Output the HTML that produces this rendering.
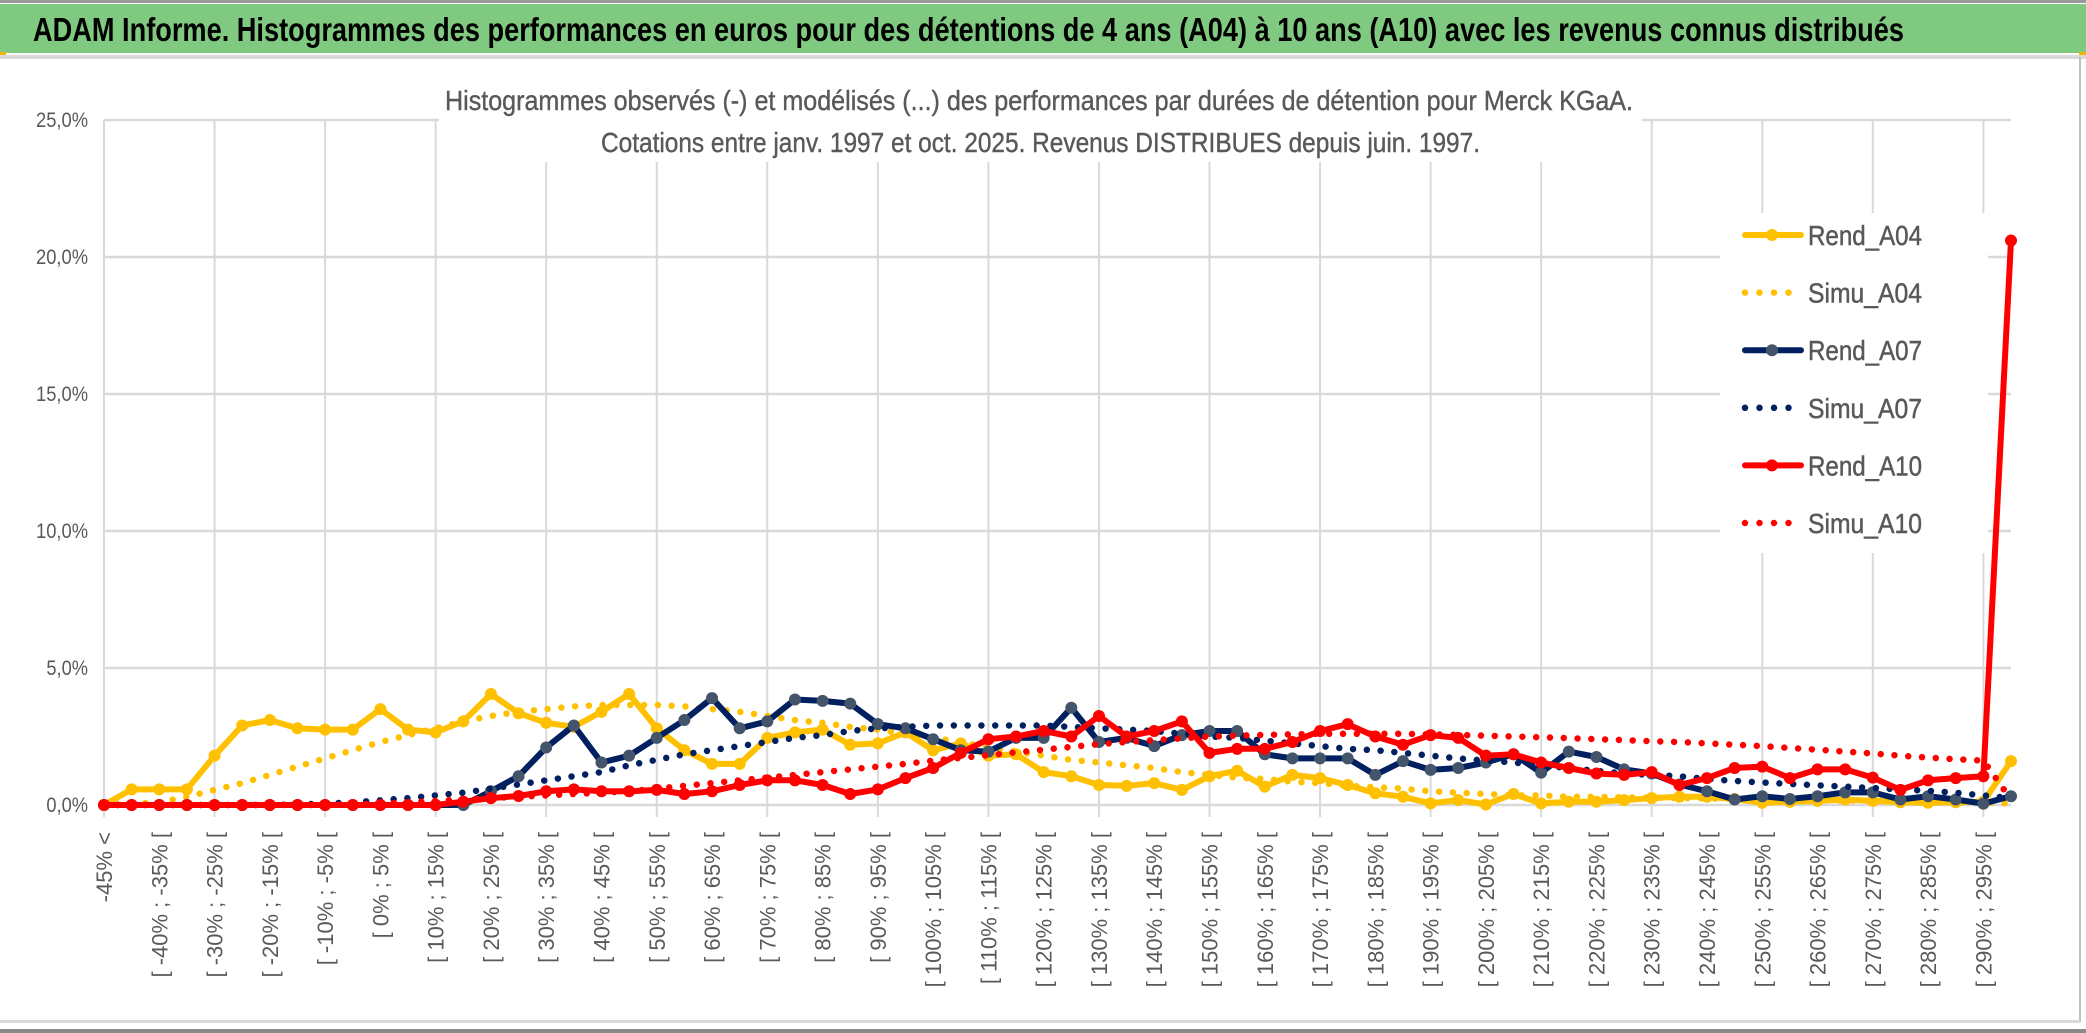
<!DOCTYPE html>
<html><head><meta charset="utf-8"><style>
html,body{margin:0;padding:0;background:#fff;}
svg{display:block;}
text{font-family:"Liberation Sans",sans-serif;}
</style></head><body>
<svg id="chart" width="2086" height="1033" viewBox="0 0 2086 1033" xmlns="http://www.w3.org/2000/svg">
  <rect x="0" y="0" width="2086" height="1033" fill="#fff"/>
  <rect x="0" y="0" width="2086" height="3" fill="#9a9a9a"/>
  <rect x="0" y="4" width="2086" height="49" fill="#80c980"/>
  <rect x="0" y="52" width="6" height="5" fill="#f2b200"/>
  <rect x="2079" y="52" width="7" height="5" fill="#f2b200"/>
  <rect x="0" y="55" width="2086" height="4" fill="#d9d9d9"/>
  <text x="33" y="41" font-size="33" font-weight="bold" fill="#000" textLength="1871" lengthAdjust="spacingAndGlyphs">ADAM Informe. Histogrammes des performances en euros pour des détentions de 4 ans (A04) à 10 ans (A10) avec les revenus connus distribués</text>
  <rect x="2079" y="57" width="2" height="965" fill="#bfbfbf"/>
  <rect x="0" y="1020" width="2080" height="3" fill="#d9d9d9"/>
  <rect x="0" y="1029" width="2086" height="4" fill="#8a8a8a"/>
  <g id="grid"></g>
  <g id="yaxis"></g>
  <g id="xaxis"></g>
  <rect x="439" y="82" width="1203" height="80" fill="#fff"/>
  <text x="445" y="110" font-size="28" fill="#595959" stroke="#595959" stroke-width="0.4" textLength="1188" lengthAdjust="spacingAndGlyphs">Histogrammes observés (-) et modélisés (...) des performances par durées de détention pour Merck KGaA.</text>
  <text x="601" y="152" font-size="28" fill="#595959" stroke="#595959" stroke-width="0.4" textLength="879" lengthAdjust="spacingAndGlyphs">Cotations entre janv. 1997 et oct. 2025. Revenus DISTRIBUES depuis juin. 1997.</text>
  <rect x="1720" y="213" width="268" height="340" fill="#fff"/>
  <g id="series"></g>
  <g id="legend"></g>
</svg>
<script>
const rendA04 = [0,0.57,0.57,0.57,1.8,2.9,3.1,2.8,2.75,2.75,3.5,2.75,2.65,3.05,4.05,3.35,3.0,2.85,3.4,4.05,2.8,2.0,1.5,1.5,2.45,2.65,2.75,2.2,2.25,2.65,2.0,2.25,1.8,1.85,1.2,1.05,0.73,0.7,0.8,0.55,1.05,1.25,0.67,1.1,0.98,0.73,0.43,0.3,0.06,0.18,0.02,0.4,0.06,0.12,0.12,0.18,0.25,0.3,0.3,0.22,0.08,0.12,0.15,0.2,0.15,0.1,0.08,0.1,0.12,1.6];
const simuA04 = [0,0.05,0.1,0.3,0.55,0.8,1.1,1.4,1.7,2.0,2.3,2.55,2.8,3.05,3.25,3.4,3.5,3.6,3.65,3.65,3.65,3.6,3.5,3.4,3.25,3.1,3.0,2.85,2.75,2.6,2.45,2.3,2.1,1.95,1.8,1.65,1.55,1.45,1.35,1.2,1.1,1.0,0.95,0.85,0.8,0.7,0.65,0.6,0.5,0.45,0.4,0.35,0.35,0.3,0.3,0.28,0.27,0.25,0.24,0.22,0.2,0.19,0.18,0.16,0.15,0.13,0.12,0.11,0.1,0.05];
const rendA07 = [0,0,0,0,0,0,0,0,0,0,0,0,0,0,0.5,1.05,2.1,2.9,1.55,1.8,2.45,3.1,3.9,2.8,3.05,3.85,3.8,3.7,2.95,2.8,2.4,2.0,1.95,2.45,2.45,3.55,2.3,2.45,2.15,2.55,2.7,2.7,1.85,1.7,1.7,1.7,1.1,1.6,1.28,1.35,1.55,1.85,1.18,1.95,1.75,1.3,1.15,0.75,0.5,0.2,0.32,0.22,0.32,0.46,0.46,0.2,0.32,0.2,0.05,0.32];
const simuA07 = [0,0,0,0,0,0,0,0.02,0.05,0.1,0.17,0.25,0.35,0.45,0.6,0.75,0.9,1.05,1.2,1.45,1.65,1.85,2.0,2.15,2.3,2.45,2.55,2.7,2.8,2.85,2.9,2.9,2.9,2.9,2.9,2.85,2.8,2.75,2.7,2.6,2.5,2.45,2.35,2.25,2.15,2.05,2.0,1.9,1.8,1.7,1.62,1.55,1.45,1.35,1.25,1.15,1.1,1.05,0.95,0.88,0.82,0.77,0.72,0.67,0.62,0.57,0.52,0.45,0.35,0.25];
const rendA10 = [0,0,0,0,0,0,0,0,0,0,0,0,0,0.12,0.25,0.33,0.5,0.57,0.5,0.5,0.55,0.4,0.5,0.73,0.9,0.9,0.73,0.4,0.57,0.98,1.35,1.9,2.4,2.5,2.7,2.5,3.25,2.5,2.7,3.05,1.9,2.05,2.05,2.3,2.7,2.95,2.5,2.2,2.55,2.45,1.8,1.85,1.55,1.35,1.15,1.1,1.2,0.73,0.98,1.35,1.4,0.98,1.3,1.3,1.0,0.55,0.9,0.98,1.05,20.6];
const simuA10 = [0,0,0,0,0,0,0,0,0,0.02,0.05,0.1,0.15,0.2,0.25,0.3,0.35,0.4,0.45,0.5,0.6,0.7,0.8,0.9,1.0,1.1,1.2,1.3,1.4,1.5,1.62,1.72,1.82,1.92,2.02,2.12,2.22,2.3,2.37,2.43,2.5,2.53,2.56,2.58,2.6,2.6,2.6,2.6,2.58,2.56,2.53,2.5,2.47,2.44,2.4,2.37,2.33,2.3,2.25,2.2,2.15,2.08,2.02,1.95,1.88,1.8,1.73,1.67,1.62,0.2];
const yTicks = [0,5,10,15,20,25];
const yTickLabels = ["0,0%","5,0%","10,0%","15,0%","20,0%","25,0%"];
const seriesNames = ["Rend_A04","Simu_A04","Rend_A07","Simu_A07","Rend_A10","Simu_A10"];
const categories = ["-45% <"];
for (let s = -45; s < 300; s += 5) categories.push("[ " + s + "% ; " + (s + 5) + "% [");

const NS = "http://www.w3.org/2000/svg";
const X0 = 104, X1 = 2011, Y0 = 805, Y25 = 120;
const xScale = i => X0 + i * (X1 - X0) / (categories.length - 1);
const yScale = v => Y0 - v * (Y0 - Y25) / 25;
function mk(tag, attrs, parent) {
  const e = document.createElementNS(NS, tag);
  for (const k in attrs) e.setAttribute(k, attrs[k]);
  parent.appendChild(e);
  return e;
}
const grid = document.getElementById('grid');
yTicks.forEach((t, k) => {
  const ln = mk('line', {x1: X0, x2: X1, y1: yScale(t), y2: yScale(t), stroke: '#d9d9d9', 'stroke-width': 2.5}, grid);
  
  
});
for (let i = 0; i < categories.length; i += 4) {
  const ln = mk('line', {x1: xScale(i), x2: xScale(i), y1: Y25, y2: Y0 + 12, stroke: '#d9d9d9', 'stroke-width': 2}, grid);
  
  
}
const yaxis = document.getElementById('yaxis');
yTicks.forEach((t, k) => {
  const tx = mk('text', {x: 88, y: yScale(t) + 7, 'font-size': 21, fill: '#595959', 'text-anchor': 'end', textLength: yTickLabels[k].length * 10.4, lengthAdjust: 'spacingAndGlyphs'}, yaxis);
  tx.textContent = yTickLabels[k];
  
  
});
const xaxis = document.getElementById('xaxis');
categories.forEach((c, i) => {
  if (i % 2) return;
  const x = xScale(i) + 8, y = 832;
  const tx = mk('text', {x: x, y: y, 'font-size': 22, fill: '#595959', 'text-anchor': 'end', transform: 'rotate(-90 ' + x + ' ' + y + ')'}, xaxis);
  tx.textContent = c;
  
  
});
const series = document.getElementById('series');
function pts(arr) { return arr.map((v, i) => xScale(i).toFixed(1) + ',' + yScale(v).toFixed(1)).join(' '); }
function drawRend(arr, color, marker, name) {
  const g = mk('g', {}, series);
  
  
  const pl = mk('polyline', {points: pts(arr), fill: 'none', stroke: color, 'stroke-width': 6, 'stroke-linejoin': 'round', 'stroke-linecap': 'round'}, g);
  
  
  arr.forEach((v, i) => {
    const c = mk('circle', {cx: xScale(i), cy: yScale(v), r: 6, fill: marker}, g);
    
    
  });
}
function drawSimu(arr, color, name) {
  const pl = mk('polyline', {points: pts(arr), fill: 'none', stroke: color, 'stroke-width': 6.5, 'stroke-dasharray': '0 13.8', 'stroke-linecap': 'round', 'stroke-linejoin': 'round'}, series);
  
  
}
drawRend(rendA04, '#ffc000', '#ffc000', 'series-rend-a04');
drawSimu(simuA04, '#ffc000', 'series-simu-a04');
drawRend(rendA07, '#002060', '#44546a', 'series-rend-a07');
drawSimu(simuA07, '#002060', 'series-simu-a07');
drawRend(rendA10, '#ff0000', '#ff0000', 'series-rend-a10');
drawSimu(simuA10, '#ff0000', 'series-simu-a10');

const legend = document.getElementById('legend');
const legColors = ['#ffc000','#ffc000','#002060','#002060','#ff0000','#ff0000'];
const legMarkers = ['#ffc000',null,'#44546a',null,'#ff0000',null];
seriesNames.forEach((n, k) => {
  const y = 235 + k * 57.6;
  const g = mk('g', {}, legend);
  
  
  if (legMarkers[k]) {
    mk('line', {x1: 1745, x2: 1801, y1: y, y2: y, stroke: legColors[k], 'stroke-width': 6, 'stroke-linecap': 'round'}, g);
    mk('circle', {cx: 1772, cy: y, r: 6, fill: legMarkers[k]}, g);
  } else {
    mk('line', {x1: 1745, x2: k === 5 ? 1801 : 1790, y1: y, y2: y, stroke: legColors[k], 'stroke-width': 6.5, 'stroke-dasharray': '0 14.5', 'stroke-linecap': 'round'}, g);
  }
  const tx = mk('text', {x: 1808, y: y + 10, 'font-size': 28, fill: '#595959', stroke: '#595959', 'stroke-width': 0.5, textLength: 114, lengthAdjust: 'spacingAndGlyphs'}, g);
  tx.textContent = n;
});
</script>
</body></html>
